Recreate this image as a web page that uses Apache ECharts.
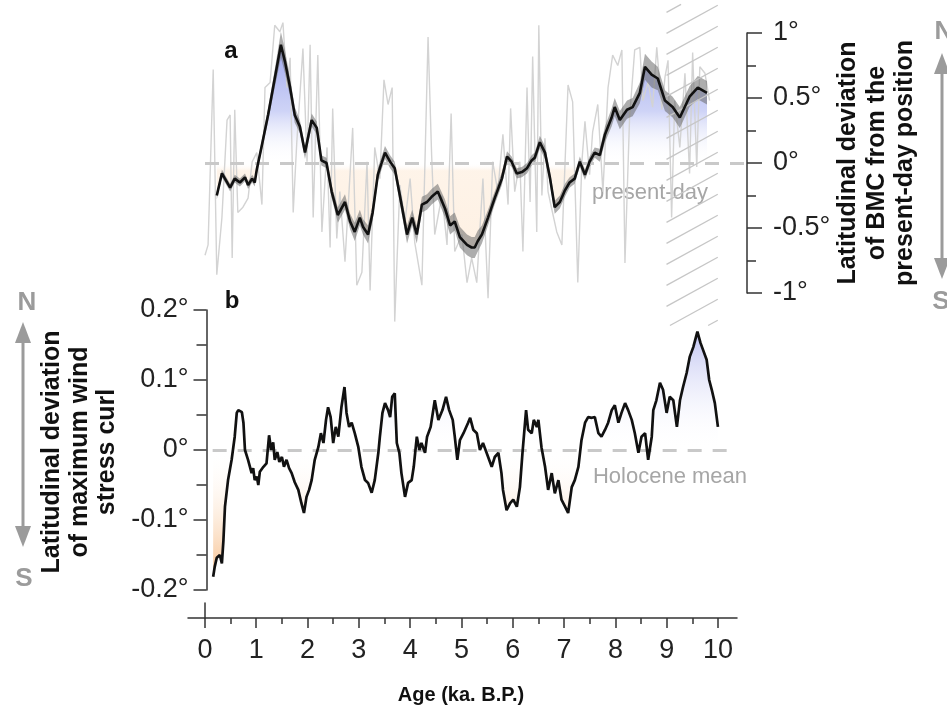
<!DOCTYPE html>
<html>
<head>
<meta charset="utf-8">
<script src="https://cdn.jsdelivr.net/npm/echarts@6/dist/echarts.min.js"></script>
<style>
  html, body { margin: 0; background: #fff; }
  #chart { width: 947px; height: 707px; }
</style>
</head>
<body>
<div id="chart"></div>
<script>
// panel a: BMC latitude (smoothed), its uncertainty half-width, and the raw record
const bmcAge = [0.23,0.33,0.49,0.58,0.68,0.78,0.84,0.92,0.97,1.01,1.10,1.23,1.36,1.48,1.56,1.66,1.75,1.85,1.95,2.08,2.18,2.27,2.37,2.47,2.59,2.73,2.83,2.92,3.02,3.08,3.18,3.27,3.37,3.51,3.61,3.70,3.80,3.94,4.04,4.13,4.23,4.33,4.42,4.54,4.68,4.78,4.87,4.97,5.11,5.20,5.26,5.32,5.40,5.52,5.65,5.79,5.89,5.98,6.08,6.18,6.28,6.37,6.43,6.53,6.63,6.73,6.82,6.92,7.02,7.11,7.21,7.31,7.41,7.50,7.60,7.70,7.80,7.93,7.99,8.09,8.23,8.34,8.48,8.58,8.71,8.83,8.97,9.12,9.26,9.45,9.61,9.79]
const bmcLat = [-0.25,-0.08,-0.19,-0.12,-0.15,-0.11,-0.17,-0.12,-0.15,-0.05,0.12,0.37,0.65,0.91,0.78,0.58,0.37,0.28,0.08,0.33,0.27,0.02,0.0,-0.22,-0.40,-0.30,-0.45,-0.53,-0.42,-0.49,-0.55,-0.38,-0.09,0.08,0.01,-0.04,-0.25,-0.55,-0.42,-0.55,-0.32,-0.30,-0.26,-0.22,-0.35,-0.48,-0.45,-0.57,-0.63,-0.65,-0.65,-0.60,-0.55,-0.42,-0.27,-0.12,0.05,0.01,-0.08,-0.07,-0.04,0.02,0.04,0.16,0.08,-0.12,-0.34,-0.30,-0.21,-0.15,-0.12,0.01,-0.09,0.01,0.08,0.06,0.22,0.35,0.43,0.33,0.41,0.43,0.54,0.74,0.68,0.65,0.48,0.43,0.35,0.51,0.58,0.54]
const bmcSpread = [0.03,0.03,0.03,0.03,0.03,0.03,0.03,0.03,0.03,0.03,0.04,0.05,0.07,0.1,0.09,0.07,0.06,0.05,0.05,0.05,0.05,0.04,0.04,0.05,0.06,0.06,0.06,0.07,0.06,0.06,0.07,0.06,0.05,0.05,0.05,0.05,0.06,0.07,0.06,0.07,0.06,0.06,0.06,0.06,0.07,0.07,0.07,0.08,0.08,0.08,0.08,0.08,0.07,0.06,0.05,0.05,0.04,0.04,0.04,0.04,0.04,0.04,0.04,0.05,0.05,0.05,0.05,0.05,0.05,0.04,0.04,0.04,0.04,0.04,0.04,0.05,0.06,0.07,0.07,0.07,0.07,0.07,0.08,0.1,0.1,0.09,0.08,0.08,0.08,0.08,0.09,0.09]
const rawAge = [0.0,0.06,0.16,0.23,0.33,0.43,0.49,0.53,0.58,0.64,0.74,0.84,0.92,1.01,1.11,1.17,1.27,1.36,1.46,1.52,1.60,1.66,1.72,1.79,1.85,1.91,1.99,2.05,2.11,2.20,2.28,2.38,2.44,2.49,2.57,2.63,2.73,2.88,2.96,3.06,3.16,3.22,3.31,3.41,3.49,3.57,3.65,3.70,3.80,3.90,4.00,4.09,4.23,4.35,4.42,4.48,4.62,4.72,4.80,4.87,5.01,5.11,5.20,5.30,5.42,5.52,5.61,5.71,5.81,5.91,5.96,6.04,6.14,6.20,6.28,6.34,6.39,6.47,6.51,6.57,6.63,6.69,6.76,6.86,6.96,7.08,7.17,7.27,7.35,7.41,7.50,7.56,7.66,7.76,7.86,7.95,8.05,8.13,8.19,8.28,8.38,8.48,8.54,8.64,8.73,8.81,8.91,8.97,9.03,9.10,9.16,9.26,9.36,9.45,9.51,9.59,9.65,9.75,9.84]
const rawLat = [-0.71,-0.63,0.72,-0.86,-0.42,0.33,0.37,-0.73,0.41,-0.38,-0.34,-0.27,0.01,0.08,-0.32,0.58,0.62,1.06,1.01,1.08,0.58,0.81,-0.38,0.16,0.52,0.88,0.01,0.91,-0.42,0.83,-0.53,0.12,-0.65,0.42,-0.58,-0.22,-0.76,0.27,-0.94,-0.84,0.01,-0.98,0.12,-0.12,0.64,0.45,0.58,-1.22,-0.17,-0.45,-0.12,-0.61,-0.94,0.97,0.06,-0.55,-0.25,-0.63,0.38,-0.68,-0.55,-0.92,-0.73,-0.92,-0.12,-1.04,0.01,-0.22,0.22,-0.32,0.42,-0.22,0.01,-0.68,0.58,-0.30,0.82,-0.53,1.06,-0.25,0.19,-0.22,-0.35,-0.53,-0.63,0.6,0.47,-0.92,0.01,0.32,-0.09,0.24,0.45,-0.22,0.58,0.83,0.75,0.87,-0.77,0.35,0.87,0.89,0.48,0.62,0.43,0.89,0.41,0.66,0.79,-0.42,0.48,0.12,0.69,-0.08,0.85,-0.03,0.74,0.69,0.48]
// hatched (uncertain) part of panel a
const hatchAge = [9, 10]
const hatchLat = [-1.25, 1.22]

// panel b: latitude of maximum wind stress curl
const windAge = [0.16,0.19,0.23,0.29,0.33,0.36,0.39,0.45,0.52,0.58,0.62,0.65,0.72,0.75,0.78,0.84,0.91,0.94,0.97,1.01,1.04,1.07,1.14,1.20,1.25,1.29,1.33,1.36,1.41,1.45,1.50,1.54,1.59,1.64,1.69,1.75,1.82,1.88,1.93,1.98,2.03,2.08,2.14,2.21,2.26,2.31,2.36,2.40,2.45,2.50,2.55,2.60,2.66,2.72,2.76,2.81,2.86,2.92,2.99,3.05,3.12,3.18,3.25,3.31,3.38,3.41,3.46,3.51,3.57,3.61,3.65,3.70,3.74,3.79,3.83,3.90,3.96,4.03,4.07,4.13,4.18,4.22,4.29,4.33,4.40,4.48,4.55,4.63,4.70,4.76,4.83,4.87,4.92,4.97,5.04,5.13,5.17,5.23,5.30,5.36,5.42,5.49,5.59,5.65,5.72,5.78,5.81,5.88,5.95,6.01,6.08,6.14,6.19,6.26,6.30,6.37,6.41,6.47,6.50,6.56,6.63,6.69,6.76,6.82,6.89,6.95,7.02,7.08,7.15,7.21,7.28,7.34,7.41,7.47,7.54,7.60,7.67,7.73,7.80,7.86,7.93,7.99,8.06,8.12,8.19,8.25,8.32,8.38,8.45,8.51,8.58,8.64,8.71,8.74,8.80,8.87,8.93,9.00,9.06,9.13,9.20,9.26,9.32,9.39,9.45,9.52,9.60,9.66,9.71,9.78,9.83,9.88,9.94,10.0]
const windLat = [-0.181,-0.167,-0.154,-0.15,-0.162,-0.129,-0.081,-0.043,-0.014,0.019,0.053,0.057,0.054,0.039,0.0,-0.014,-0.033,-0.026,-0.043,-0.038,-0.05,-0.031,-0.024,-0.019,0.021,0.0,0.011,-0.014,-0.003,-0.017,-0.01,-0.024,-0.014,-0.026,-0.033,-0.046,-0.057,-0.076,-0.09,-0.067,-0.057,-0.043,-0.014,0.004,0.024,0.01,0.043,0.061,0.047,0.01,0.033,0.019,0.061,0.09,0.053,0.033,0.039,0.024,0.004,-0.024,-0.043,-0.047,-0.061,-0.043,-0.004,0.019,0.053,0.067,0.057,0.047,0.076,0.081,0.01,-0.004,-0.033,-0.067,-0.047,-0.043,-0.024,0.019,0.0,0.01,-0.004,0.019,0.033,0.071,0.043,0.057,0.076,0.057,0.043,0.019,-0.014,0.014,0.024,0.039,0.046,0.029,0.024,0.0,0.01,-0.004,-0.024,-0.01,-0.004,-0.033,-0.057,-0.086,-0.076,-0.071,-0.081,-0.053,-0.004,0.057,0.029,0.024,0.043,0.033,0.043,0.004,-0.024,-0.057,-0.033,-0.062,-0.043,-0.071,-0.081,-0.09,-0.053,-0.043,-0.024,0.014,0.039,0.047,0.046,0.047,0.024,0.019,0.029,0.039,0.057,0.064,0.039,0.053,0.067,0.057,0.043,0.024,-0.004,0.019,0.024,-0.014,0.019,0.057,0.071,0.096,0.086,0.053,0.076,0.071,0.033,0.071,0.09,0.11,0.133,0.147,0.169,0.153,0.143,0.129,0.1,0.086,0.067,0.033]
const meanLineAge = [0.15, 10.29]

// axis ticks
const ageTicks = [0,1,2,3,4,5,6,7,8,9,10]
const ageMinorTicks = [0.5,1.5,2.5,3.5,4.5,5.5,6.5,7.5,8.5,9.5]

const FONT = '"Liberation Sans", Arial, sans-serif'
const AXIS = '#333'
const pairs = (xs, ys) => xs.map((x, i) => [x, ys[i]])
const deg = v => v + '°'

const chart = echarts.init(document.getElementById('chart'))

const fillA = new echarts.graphic.LinearGradient(0, 33, 0, 293, [
  { offset: 0, color: 'rgba(140,150,232,0.95)' },
  { offset: 0.3, color: 'rgba(180,188,242,0.65)' },
  { offset: 0.5, color: 'rgba(255,255,255,0)' },
  { offset: 0.53, color: 'rgba(252,214,175,0.28)' },
  { offset: 0.8, color: 'rgba(250,208,165,0.3)' },
  { offset: 1, color: 'rgba(248,196,145,0.45)' },
], true)
const fillB = new echarts.graphic.LinearGradient(0, 310, 0, 590, [
  { offset: 0, color: 'rgba(150,156,232,0.85)' },
  { offset: 0.5, color: 'rgba(255,255,255,0)' },
  { offset: 1, color: 'rgba(244,168,98,0.9)' },
], true)

const zeroLine = { color: '#c9c9c9', width: 3, type: [14, 11] }
const tickStyle = { color: AXIS, width: 1.5 }

function text(x, y, str, opts) {
  return Object.assign({
    type: 'text', x, y, silent: true,
    style: Object.assign({
      text: str, fill: '#111', font: 'bold 25px ' + FONT,
      align: 'center', verticalAlign: 'middle', textAlign: 'center', textVerticalAlign: 'middle',
    }, opts && opts.style),
  }, opts && opts.el)
}
function arrow(x, yTop, yBot) {
  const c = '#9b9b9b'
  return [
    { type: 'line', silent: true, shape: { x1: x, y1: yTop + 18, x2: x, y2: yBot - 18 }, style: { stroke: c, lineWidth: 3 } },
    { type: 'polygon', silent: true, shape: { points: [[x, yTop], [x - 8, yTop + 21], [x + 8, yTop + 21]] }, style: { fill: c } },
    { type: 'polygon', silent: true, shape: { points: [[x, yBot], [x - 8, yBot - 21], [x + 8, yBot - 21]] }, style: { fill: c } },
  ]
}

const option = {
  animation: false,
  backgroundColor: '#fff',
  textStyle: { fontFamily: FONT },
  grid: [
    { left: 205, top: 33, width: 542, height: 260, containLabel: false, outerBoundsMode: 'none' },
    { left: 206.5, top: 310, width: 526.3, height: 280, containLabel: false, outerBoundsMode: 'none' },
    { left: 188, top: 603, width: 549, height: 15, containLabel: false, outerBoundsMode: 'none' },
  ],
  xAxis: [
    { type: 'value', gridIndex: 0, min: 0, max: 10.57, show: false },
    { type: 'value', gridIndex: 1, min: 0.03, max: 10.29, show: false },
    {
      type: 'value', gridIndex: 2, min: -0.33, max: 10.37, position: 'bottom',
      axisLine: { show: true, lineStyle: tickStyle },
      axisTick: { show: true, length: 10, customValues: ageTicks, lineStyle: tickStyle },
      axisLabel: { show: true, customValues: ageTicks, margin: 19, fontSize: 27, color: '#222', fontFamily: FONT },
      splitLine: { show: false },
    },
    {
      type: 'value', gridIndex: 2, min: -0.33, max: 10.37, position: 'bottom',
      axisLine: { show: false },
      axisTick: { show: true, length: 6, customValues: ageMinorTicks, lineStyle: tickStyle },
      axisLabel: { show: false },
      splitLine: { show: false },
    },
  ],
  yAxis: [
    {
      type: 'value', gridIndex: 0, min: -1, max: 1, interval: 0.5, position: 'right',
      axisLine: { show: true, onZero: false, lineStyle: tickStyle },
      axisTick: { show: true, length: 15, lineStyle: tickStyle },
      minorTick: { show: true, splitNumber: 2, length: 9, lineStyle: tickStyle },
      axisLabel: { margin: 26, fontSize: 27, color: '#222', fontFamily: FONT, formatter: deg },
      splitLine: { show: false },
    },
    {
      type: 'value', gridIndex: 1, min: -0.2, max: 0.2, interval: 0.1, position: 'left',
      axisLine: { show: true, onZero: false, lineStyle: tickStyle },
      axisTick: { show: true, length: 13, lineStyle: tickStyle },
      minorTick: { show: true, splitNumber: 2, length: 10, lineStyle: tickStyle },
      axisLabel: { margin: 18, fontSize: 27, color: '#222', fontFamily: FONT, formatter: deg },
      splitLine: { show: false },
    },
    {
      type: 'value', gridIndex: 2, min: 0, max: 1,
      axisLine: { show: true, onZero: true, lineStyle: tickStyle },
      axisTick: { show: false }, axisLabel: { show: false }, splitLine: { show: false },
    },
  ],
  series: [
    {
      name: 'fill a', type: 'line', xAxisIndex: 0, yAxisIndex: 0, z: 1, silent: true, clip: false,
      data: pairs(bmcAge, bmcLat), symbol: 'none',
      lineStyle: { width: 0 }, areaStyle: { origin: 0, color: fillA, opacity: 1 },
      markLine: { silent: true, symbol: 'none', label: { show: false }, lineStyle: zeroLine, data: [{ yAxis: 0 }] },
    },
    {
      name: 'raw', type: 'line', xAxisIndex: 0, yAxisIndex: 0, z: 2, silent: true, clip: false,
      data: pairs(rawAge, rawLat), symbol: 'none',
      lineStyle: { color: '#d3d3d3', width: 1.4 },
    },
    {
      name: 'band', type: 'custom', xAxisIndex: 0, yAxisIndex: 0, z: 3, silent: true, clip: false,
      data: [[bmcAge[0], bmcLat[0]]],
      renderItem(params, api) {
        const up = bmcAge.map((a, i) => api.coord([a, bmcLat[i] + bmcSpread[i]]))
        const dn = bmcAge.map((a, i) => api.coord([a, bmcLat[i] - bmcSpread[i]])).reverse()
        return { type: 'polygon', shape: { points: up.concat(dn) }, style: { fill: 'rgba(105,105,105,0.55)' } }
      },
    },
    {
      name: 'hatch', type: 'custom', xAxisIndex: 0, yAxisIndex: 0, z: 4, silent: true, clip: false,
      data: [[hatchAge[0], 0]],
      renderItem(params, api) {
        const tl = api.coord([hatchAge[0], hatchLat[1]])
        const br = api.coord([hatchAge[1], hatchLat[0]])
        const w = br[0] - tl[0], rise = w * 0.55, lines = []
        for (let yb = tl[1] + 8; yb < br[1] + rise; yb += 21) {
          let x1 = tl[0], y1 = yb, x2 = br[0], y2 = yb - rise
          if (y1 > br[1]) { x1 = tl[0] + (y1 - br[1]) / rise * w; y1 = br[1] }
          if (y2 < tl[1]) { x2 = tl[0] + (yb - tl[1]) / rise * w; y2 = tl[1] }
          if (x2 > x1) lines.push({ type: 'line', shape: { x1, y1, x2, y2 }, style: { stroke: '#c6c6c6', lineWidth: 1.3 } })
        }
        return { type: 'group', children: lines }
      },
    },
    {
      name: 'BMC', type: 'line', xAxisIndex: 0, yAxisIndex: 0, z: 5, silent: true, clip: false,
      data: pairs(bmcAge, bmcLat), symbol: 'none',
      lineStyle: { color: '#111', width: 2.6 },
    },
    {
      name: 'fill b', type: 'line', xAxisIndex: 1, yAxisIndex: 1, z: 1, silent: true, clip: false,
      data: pairs(windAge, windLat), symbol: 'none',
      lineStyle: { width: 0 }, areaStyle: { origin: 0, color: fillB, opacity: 1 },
      markLine: {
        silent: true, symbol: 'none', label: { show: false }, lineStyle: zeroLine,
        data: [[{ coord: [meanLineAge[0], 0] }, { coord: [meanLineAge[1], 0] }]],
      },
    },
    {
      name: 'wind stress curl', type: 'line', xAxisIndex: 1, yAxisIndex: 1, z: 5, silent: true, clip: false,
      data: pairs(windAge, windLat), symbol: 'none',
      lineStyle: { color: '#111', width: 2.7 },
    },
  ],
  graphic: {
    elements: [
      text(231, 51, 'a', { style: { font: 'bold 24px ' + FONT } }),
      text(232, 301, 'b', { style: { font: 'bold 24px ' + FONT } }),
      text(650, 193, 'present-day', { style: { font: '22px ' + FONT, fill: '#a6a6a6' } }),
      text(670, 477, 'Holocene mean', { style: { font: '22px ' + FONT, fill: '#a6a6a6' } }),
      text(461, 695, 'Age (ka. B.P.)', { style: { font: 'bold 20px ' + FONT } }),
      text(0, 0, 'Latitudinal deviation\nof BMC from the\npresent-day position',
        { el: { x: 877, y: 163, rotation: Math.PI / 2 }, style: { lineHeight: 28.5 } }),
      text(0, 0, 'Latitudinal deviation\nof maximum wind\nstress curl',
        { el: { x: 80, y: 452, rotation: Math.PI / 2 }, style: { lineHeight: 27.5 } }),
      text(27, 303, 'N', { style: { font: 'bold 26px ' + FONT, fill: '#9b9b9b' } }),
      text(24, 579, 'S', { style: { font: 'bold 26px ' + FONT, fill: '#9b9b9b' } }),
      text(944, 32, 'N', { style: { font: 'bold 26px ' + FONT, fill: '#9b9b9b' } }),
      text(941, 302, 'S', { style: { font: 'bold 26px ' + FONT, fill: '#9b9b9b' } }),
      ...arrow(23, 322, 547),
      ...arrow(942, 53, 279),
    ],
  },
}

chart.setOption(option)
</script>
</body>
</html>
